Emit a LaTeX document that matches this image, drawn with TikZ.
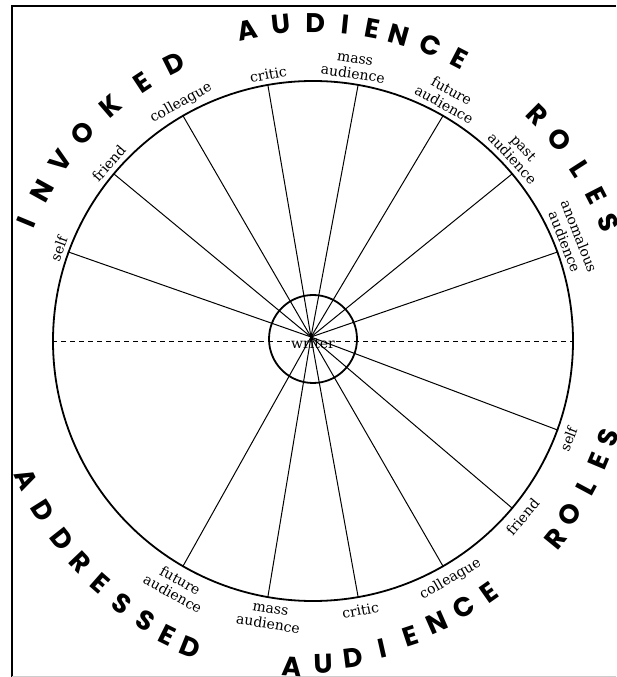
\documentclass[tikz,border=0pt]{standalone}
\usepackage{fontspec}
\newfontfamily\labelfont{DejaVu Serif}
\newfontfamily\capsfont{Poppins}
\usetikzlibrary{positioning,calc}

\begin{document}
\begin{tikzpicture}[x=1pt,y=1pt,
  rolelbl/.style={font=\labelfont\fontsize{14}{15.5}\selectfont,align=center,inner sep=1pt},
  bigcap/.style={font=\capsfont\bfseries\fontsize{27}{27}\selectfont,inner sep=0pt}]
\useasboundingbox (-313,-336) rectangle (303,341);
\fill[white] (-313,-336) rectangle (303,341);
% frame
\draw[line width=1.5pt] (303,335)--(-301,335)--(-301,-336);
\draw[gray!40,line width=0.8pt] (-301,-335)--(303,-335);
% wheel
\node[circle,draw,line width=1.8pt,minimum size=520pt,inner sep=0pt] (rim) at (0,0) {};
\node[circle,draw,line width=1.8pt,minimum size=88pt,inner sep=0pt] (hubring) at (0,2) {};
\node[rolelbl] (writer) at (0,-2) {writer};
\coordinate (hub) at (-2,4);
\draw[dashed,dash pattern=on 5pt off 4pt] (rim.west) -- (rim.west -| writer.west);
\draw[dashed,dash pattern=on 5pt off 4pt] (rim.east -| writer.east) -- (rim.east);
\foreach \a in {20,40,...,160} \draw[line width=1pt] (hub) -- (rim.\a);
\foreach \a in {-20,-40,...,-120} \draw[line width=1pt] (hub) -- (rim.\a);
% invoked roles
\foreach \la/\t in {160/self,139/friend,119/colleague,99.5/critic,81.5/{mass\\audience},61/{future\\audience},42.5/{past\\audience},21.5/{anomalous\\audience}}
  \node[rolelbl,anchor=south,rotate=\la-90] (inv\la) at (\la:264) {\t};
% addressed roles
\foreach \la/\t in {-21/self,-40/friend,-60/colleague,-80/critic,-99/{mass\\audience},-119/{future\\audience}}
  \node[rolelbl,anchor=north,rotate=\la+90] (adr\la) at (\la:267) {\t};
% big lettering
\foreach \a/\r/\c [count=\i] in {157.5/310/I,151/310/N,144.4/310/V,137.9/310/O,130.7/310/K,123.5/310/E,116.7/310/D,
  101.9/318/A,95.8/318/U,89.6/318/D,84.2/318/I,79.3/318/E,74.3/318/N,68.3/318/C,62.6/318/E,
  45.2/318/R,39.2/318/O,32.8/318/L,27.2/318/E,21.8/318/S}
  \node[bigcap,rotate=\a-90] (upcap\i) at (\a:\r) {\c};
\foreach \a/\r/\c [count=\i] in {-154.2/318/A,-147.8/319/D,-141.7/320/D,-136.4/321/R,-131.3/323/E,-126/325/S,-121/326/S,-116.4/328/E,-111.9/330/D,
  -93.7/326/A,-88.2/323/U,-82.7/319/D,-77.2/315/I,-71.7/311/E,-66.2/308/N,-60.5/306/C,-55/307/E,
  -39.2/313/R,-34/310/O,-28.2/310/L,-22.8/310/E,-18.1/310/S}
  \node[bigcap,rotate=\a+90] (lowcap\i) at (\a:\r) {\c};
\end{tikzpicture}
\end{document}
